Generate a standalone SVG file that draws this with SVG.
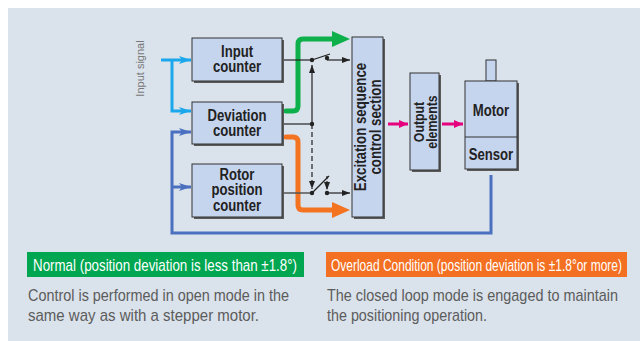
<svg xmlns="http://www.w3.org/2000/svg" width="640" height="341" viewBox="0 0 640 341">
<style>
.box{fill:#c6d5ee;stroke:#333;stroke-width:1}
.sh{fill:#5a5a5a}
.lbl{font-family:"Liberation Sans",Arial,sans-serif;font-weight:bold;font-size:16px;fill:#222;text-anchor:middle}
.thin{fill:none;stroke:#222;stroke-width:1.2}
.body{font-family:"Liberation Sans",Arial,sans-serif;font-size:16px;fill:#5c5c5c}
.leg{font-family:"Liberation Sans",Arial,sans-serif;font-size:16px;fill:#fff}
</style>
<defs>
<marker id="ah" viewBox="0 0 8 6" refX="8" refY="3" markerWidth="8" markerHeight="6" markerUnits="userSpaceOnUse" orient="auto"><path d="M0,0 L8,3 L0,6 Z" fill="#222"/></marker>
<marker id="ahb" viewBox="0 0 12 8" refX="12" refY="4" markerWidth="12" markerHeight="8" markerUnits="userSpaceOnUse" orient="auto"><path d="M0,0 L12,4 L0,8 L3,4 Z" fill="#1aa7ec"/></marker>
<marker id="ahf" viewBox="0 0 12 8" refX="12" refY="4" markerWidth="12" markerHeight="8" markerUnits="userSpaceOnUse" orient="auto"><path d="M0,0 L12,4 L0,8 L3,4 Z" fill="#4a70bf"/></marker>
<marker id="ahm" viewBox="0 0 9 8" refX="9" refY="4" markerWidth="9" markerHeight="8" markerUnits="userSpaceOnUse" orient="auto"><path d="M0,0 L9,4 L0,8 Z" fill="#e5007d"/></marker>
</defs>
<rect x="8" y="8" width="632" height="333" fill="#dae2eb"/>

<g id="connectors">
<path d="M161,60 H191" fill="none" stroke="#1aa7ec" stroke-width="3" marker-end="url(#ahb)"/>
<path d="M172,60 V111 H191" fill="none" stroke="#1aa7ec" stroke-width="3" marker-end="url(#ahb)"/>
<path d="M491,175 V233 H172 V132 H191" fill="none" stroke="#4a70bf" stroke-width="3" marker-end="url(#ahf)"/>
<path d="M172,187 H191" fill="none" stroke="#4a70bf" stroke-width="3" marker-end="url(#ahf)"/>
<path d="M286,111 H293 Q298,111 298,106 V44 Q298,39 303,39 H334" fill="none" stroke="#0db04b" stroke-width="5" stroke-linecap="round"/>
<polygon points="332,31 350,39 332,47" fill="#0db04b"/>
<path d="M286,137 H293 Q298,137 298,142 V205 Q298,210 303,210 H334" fill="none" stroke="#f47320" stroke-width="5" stroke-linecap="round"/>
<polygon points="332,202 350,210 332,218" fill="#f47320"/>
<path class="thin" d="M282,60 H312"/>
<path class="thin" d="M312,60 L330,54"/>
<path class="thin" d="M327,60 H350" marker-end="url(#ah)"/>
<path class="thin" d="M282,124 H312"/>
<path class="thin" d="M312,124 V65" marker-end="url(#ah)"/>
<path class="thin" d="M312,124 V189" stroke-dasharray="5,3" marker-end="url(#ah)"/>
<path d="M282,193 H312" fill="none" stroke="#555" stroke-width="1.5"/>
<path class="thin" d="M312,193 L329,176"/>
<path class="thin" d="M327,176 V190" stroke-dasharray="3,2" marker-end="url(#ah)"/>
<path class="thin" d="M327,193 H350" marker-end="url(#ah)"/>
<circle cx="312" cy="60" r="2.2" fill="#222"/>
<circle cx="327" cy="58" r="2.2" fill="#222"/>
<circle cx="312" cy="124" r="2.2" fill="#222"/>
<circle cx="312" cy="193" r="2.2" fill="#222"/>
<circle cx="327" cy="193" r="2.2" fill="#222"/>
<path d="M388,124 H408" fill="none" stroke="#e5007d" stroke-width="3" marker-end="url(#ahm)"/>
<path d="M442,124 H463" fill="none" stroke="#e5007d" stroke-width="3" marker-end="url(#ahm)"/>
</g>

<text x="144" y="68.5" transform="rotate(-90 144 68.5)" font-family="Liberation Sans, Arial, sans-serif" font-size="11" fill="#777" text-anchor="middle">Input signal</text>

<g id="input-counter">
<rect class="sh" x="194" y="40" width="90" height="43"/>
<rect class="box" x="192" y="38" width="90" height="43"/>
<text class="lbl" transform="translate(237,57) scale(0.82,1)"><tspan x="0" y="0">Input</tspan><tspan x="0" y="15.5">counter</tspan></text>
</g>
<g id="deviation-counter">
<rect class="sh" x="194" y="104" width="90" height="42"/>
<rect class="box" x="192" y="102" width="90" height="42"/>
<text class="lbl" transform="translate(237,121) scale(0.82,1)"><tspan x="0" y="0">Deviation</tspan><tspan x="0" y="15.5">counter</tspan></text>
</g>
<g id="rotor-position-counter">
<rect class="sh" x="194" y="166" width="90" height="53"/>
<rect class="box" x="192" y="164" width="90" height="53"/>
<text class="lbl" transform="translate(237,180) scale(0.82,1)"><tspan x="0" y="0">Rotor</tspan><tspan x="0" y="15.5">position</tspan><tspan x="0" y="31.5">counter</tspan></text>
</g>
<g id="excitation">
<rect class="sh" x="354" y="39" width="31" height="180"/>
<rect class="box" x="352" y="37" width="31" height="180"/>
<text class="lbl" transform="translate(366,127) rotate(-90) scale(0.83,1)"><tspan x="0" y="0">Excitation sequence</tspan><tspan x="0" y="15.5">control section</tspan></text>
</g>
<g id="output-elements">
<rect class="sh" x="412" y="75" width="29" height="97"/>
<rect class="box" x="410" y="73" width="29" height="97"/>
<text class="lbl" style="font-size:15px" transform="translate(424,122) rotate(-90) scale(0.82,1)"><tspan x="0" y="0">Output</tspan><tspan x="0" y="13">elements</tspan></text>
</g>
<g id="motor">
<rect class="box" x="486" y="60" width="10" height="21"/>
<rect class="sh" x="467" y="83" width="52" height="88"/>
<rect class="box" x="465" y="81" width="52" height="88"/>
<line x1="465" y1="137" x2="517" y2="137" stroke="#333" stroke-width="1"/>
<text class="lbl" transform="translate(491,116) scale(0.82,1)">Motor</text>
<text class="lbl" transform="translate(491,160) scale(0.82,1)">Sensor</text>
</g>

<g id="legend-normal">
<rect x="27" y="252" width="277" height="25" fill="#00a650"/>
<text class="leg" transform="translate(33,271) scale(0.8,1)" textLength="330" lengthAdjust="spacingAndGlyphs">Normal (position deviation is less than ±1.8°)</text>
<text class="body" transform="translate(28,301) scale(0.9,1)" textLength="290" lengthAdjust="spacingAndGlyphs">Control is performed in open mode in the</text>
<text class="body" transform="translate(28,321) scale(0.9,1)" textLength="256.7" lengthAdjust="spacingAndGlyphs">same way as with a stepper motor.</text>
</g>
<g id="legend-overload">
<rect x="326" y="252" width="301" height="25" fill="#f36f21"/>
<text class="leg" transform="translate(331,271) scale(0.78,1)" textLength="373" lengthAdjust="spacingAndGlyphs">Overload Condition (position deviation is ±1.8°or more)</text>
<text class="body" transform="translate(327,301) scale(0.9,1)" textLength="323.3" lengthAdjust="spacingAndGlyphs">The closed loop mode is engaged to maintain</text>
<text class="body" transform="translate(327,321) scale(0.9,1)" textLength="177.8" lengthAdjust="spacingAndGlyphs">the positioning operation.</text>
</g>
</svg>
